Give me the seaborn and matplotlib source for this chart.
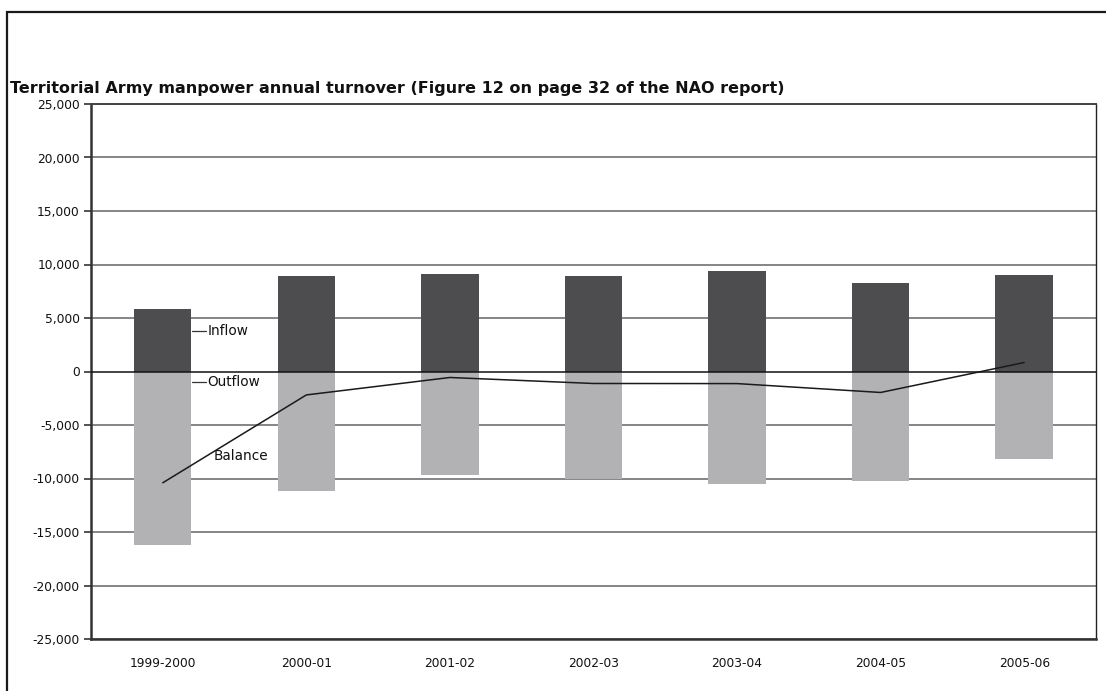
import matplotlib
matplotlib.use("Agg")
import matplotlib.pyplot as plt
from matplotlib.patches import Rectangle
from matplotlib.ticker import FuncFormatter
import seaborn as sns
import pandas as pd
import numpy as np

categories = ["1999-2000", "2000-01", "2001-02", "2002-03", "2003-04", "2004-05", "2005-06"]
inflow = [5800, 8950, 9080, 8900, 9360, 8240, 8990]
outflow = [-16200, -11140, -9640, -10020, -10490, -10200, -8150]
balance = [-10400, -2190, -560, -1120, -1130, -1960, 840]
y_ticks = list(range(-25000, 25001, 5000))
title = "Territorial Army manpower annual turnover (Figure 12 on page 32 of the NAO report)"

sns.set_theme(style="white")
plt.rcParams["font.family"] = ["DejaVu Sans"]

df = pd.DataFrame({"year": categories, "Inflow": inflow, "Outflow": outflow,
                   "Balance": balance, "pos": np.arange(len(categories))})

W, H = 1106, 691
fig = plt.figure(figsize=(W / 100, H / 100), dpi=100)
fig.patch.set_facecolor("white")
ax = fig.add_axes([91 / W, 1 - 639 / H, (1096 - 91) / W, (639 - 104) / H])

# gridlines
for t in y_ticks:
    if t == 0:
        continue
    ax.axhline(t, color="#858585", lw=1.4, zorder=0)

sns.barplot(data=df, x="year", y="Inflow", color="#4d4d4f", width=0.4,
            saturation=1, linewidth=0, ax=ax, zorder=2, order=categories)
sns.barplot(data=df, x="year", y="Outflow", color="#b2b2b4", width=0.4,
            saturation=1, linewidth=0, ax=ax, zorder=2, order=categories)
ax.axhline(0, color="#111111", lw=1.1, zorder=3)
sns.lineplot(data=df, x="pos", y="Balance", color="#1a1a1a", lw=1.1, ax=ax,
             zorder=4, legend=False)

ax.set_xlim(-0.5, len(categories) - 0.5)
ax.set_ylim(-25000, 25000)
ax.set_yticks(y_ticks)
ax.yaxis.set_major_formatter(FuncFormatter(lambda v, p: f"{int(v):,}"))
ax.set_xticks(range(len(categories)))
ax.set_xticklabels(categories)
ax.set_xlabel("")
ax.set_ylabel("")
ax.tick_params(axis="y", which="major", direction="out", length=5, width=1.2,
               color="#333333", labelsize=8.8, pad=3, left=True, labelcolor="#111111")
ax.tick_params(axis="x", length=0, labelsize=8.8, pad=13, labelcolor="#111111")

for side in ["left", "bottom"]:
    ax.spines[side].set_color("#333333")
    ax.spines[side].set_linewidth(1.8)
ax.spines["top"].set_color("#444444")
ax.spines["top"].set_linewidth(1.4)
ax.spines["right"].set_color("#222222")
ax.spines["right"].set_linewidth(1.0)

# series labels with leader lines
lx0, lx1 = 0.205, 0.30
ax.plot([lx0, lx1], [3800, 3800], color="#333333", lw=0.9, zorder=5)
ax.text(lx1 + 0.01, 3800, "Inflow", va="center", ha="left", fontsize=9.8, color="#111111")
ax.plot([lx0, lx1], [-950, -950], color="#333333", lw=0.9, zorder=5)
ax.text(lx1 + 0.01, -950, "Outflow", va="center", ha="left", fontsize=9.8, color="#111111")
ax.text(0.355, -7900, "Balance", va="center", ha="left", fontsize=9.8, color="#111111")

fig.text(10 / W, 1 - 88 / H, title, ha="left", va="center", fontsize=11.5,
         fontweight="bold", color="#111111")

fig.patches.append(Rectangle((7 / W, -0.05), 1.1, 1 - 12 / H + 0.05,
                             transform=fig.transFigure, fill=False,
                             edgecolor="#1a1a1a", lw=1.6, clip_on=False))

fig.savefig("out.png", dpi=100, facecolor="white")
